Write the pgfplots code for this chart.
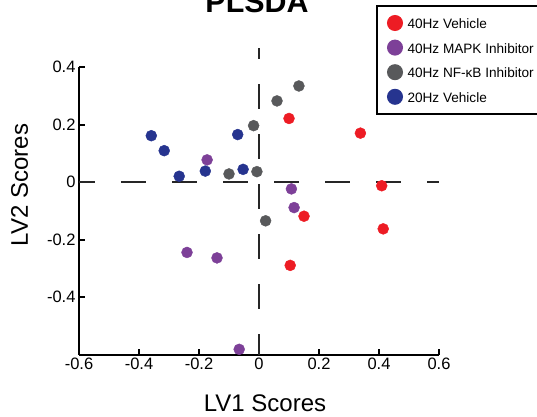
\documentclass[border=0pt]{standalone}
\usepackage{fontspec}
\setmainfont{Liberation Sans}
\usepackage{pgfplots}
\pgfplotsset{compat=1.18}
\usetikzlibrary{calc}
\definecolor{cred}{RGB}{237,28,36}
\definecolor{cpurple}{RGB}{125,64,152}
\definecolor{cgray}{RGB}{88,89,91}
\definecolor{cblue}{RGB}{38,52,143}

\begin{document}
\begin{tikzpicture}
\begin{axis}[
    scale only axis,
    width=360bp,
    height=287.5bp,
    xmin=-0.6, xmax=0.6,
    ymin=-0.6, ymax=0.4,
    axis x line*=bottom,
    axis y line*=left,
    axis line style={line width=2bp, black},
    every tick/.style={black, line width=2bp},
    major tick length=6bp,
    tick align=inside,
    xtick={-0.6,-0.4,-0.2,0,0.2,0.4,0.6},
    ytick={-0.4,-0.2,0,0.2,0.4},
    tick label style={font=\fontsize{16.5bp}{19bp}\selectfont},
    /pgf/number format/assume math mode=true,
    clip=false,
    legend style={
        at={(0.825,1.2157)}, anchor=north west,
        draw=black, line width=2bp,
        font=\fontsize{13.6bp}{16bp}\selectfont,
        inner xsep=10bp, inner ysep=9bp,
        row sep=8.6bp, column sep=4.5bp,
        nodes={inner sep=0pt},
        cells={anchor=west},
    },
    legend image code/.code={\fill[#1] (7bp,1.5bp) circle (7bp);},
]
\addplot[only marks, mark=*, mark size=5.5bp, draw=cred, fill=cred, color=cred] coordinates {
    (0.100,0.221) (0.338,0.170) (0.409,-0.013) (0.414,-0.163) (0.150,-0.119) (0.104,-0.290)
};
\addlegendentry{40Hz Vehicle}
\addplot[only marks, mark=*, mark size=5.5bp, draw=cpurple, fill=cpurple, color=cpurple] coordinates {
    (-0.173,0.077) (0.108,-0.024) (0.117,-0.089) (-0.240,-0.245) (-0.140,-0.264) (-0.066,-0.582)
};
\addlegendentry{40Hz MAPK Inhibitor}
\addplot[only marks, mark=*, mark size=5.5bp, draw=cgray, fill=cgray, color=cgray] coordinates {
    (0.133,0.334) (0.060,0.282) (-0.018,0.196) (-0.100,0.028) (-0.007,0.036) (0.022,-0.135)
};
\addlegendentry{40Hz NF-κB Inhibitor}
\addplot[only marks, mark=*, mark size=5.5bp, draw=cblue, fill=cblue, color=cblue] coordinates {
    (-0.359,0.161) (-0.316,0.109) (-0.266,0.020) (-0.179,0.038) (-0.071,0.165) (-0.053,0.044)
};
\addlegendentry{20Hz Vehicle}
% zero lines
\draw[line width=1.6bp, black!85, dash pattern=on 25bp off 26bp, dash phase=9bp]
    (axis cs:-0.6,0) -- (axis cs:0.6,0);
\draw[line width=1.6bp, black!85, dash pattern=on 25bp off 25bp, dash phase=14bp]
    (axis cs:0,0.466) -- (axis cs:0,-0.6);
\coordinate (SW) at (rel axis cs:0,0);
\coordinate (NW) at (rel axis cs:0,1);
\end{axis}
\node[anchor=base, font=\bfseries\fontsize{30.4bp}{34bp}\selectfont] at ($(NW)+(178bp,55bp)$) {PLSDA};
\node[anchor=base, font=\fontsize{24bp}{27bp}\selectfont] at ($(SW)+(186bp,-56.5bp)$) {LV1 Scores};
\node[anchor=base, rotate=90, font=\fontsize{24bp}{27bp}\selectfont] at ($(SW)+(-51bp,169.5bp)$) {LV2 Scores};
\pgfresetboundingbox
\useasboundingbox ($(SW)+(-79bp,-62.5bp)$) rectangle ++(537bp,417bp);
\end{tikzpicture}
\end{document}
